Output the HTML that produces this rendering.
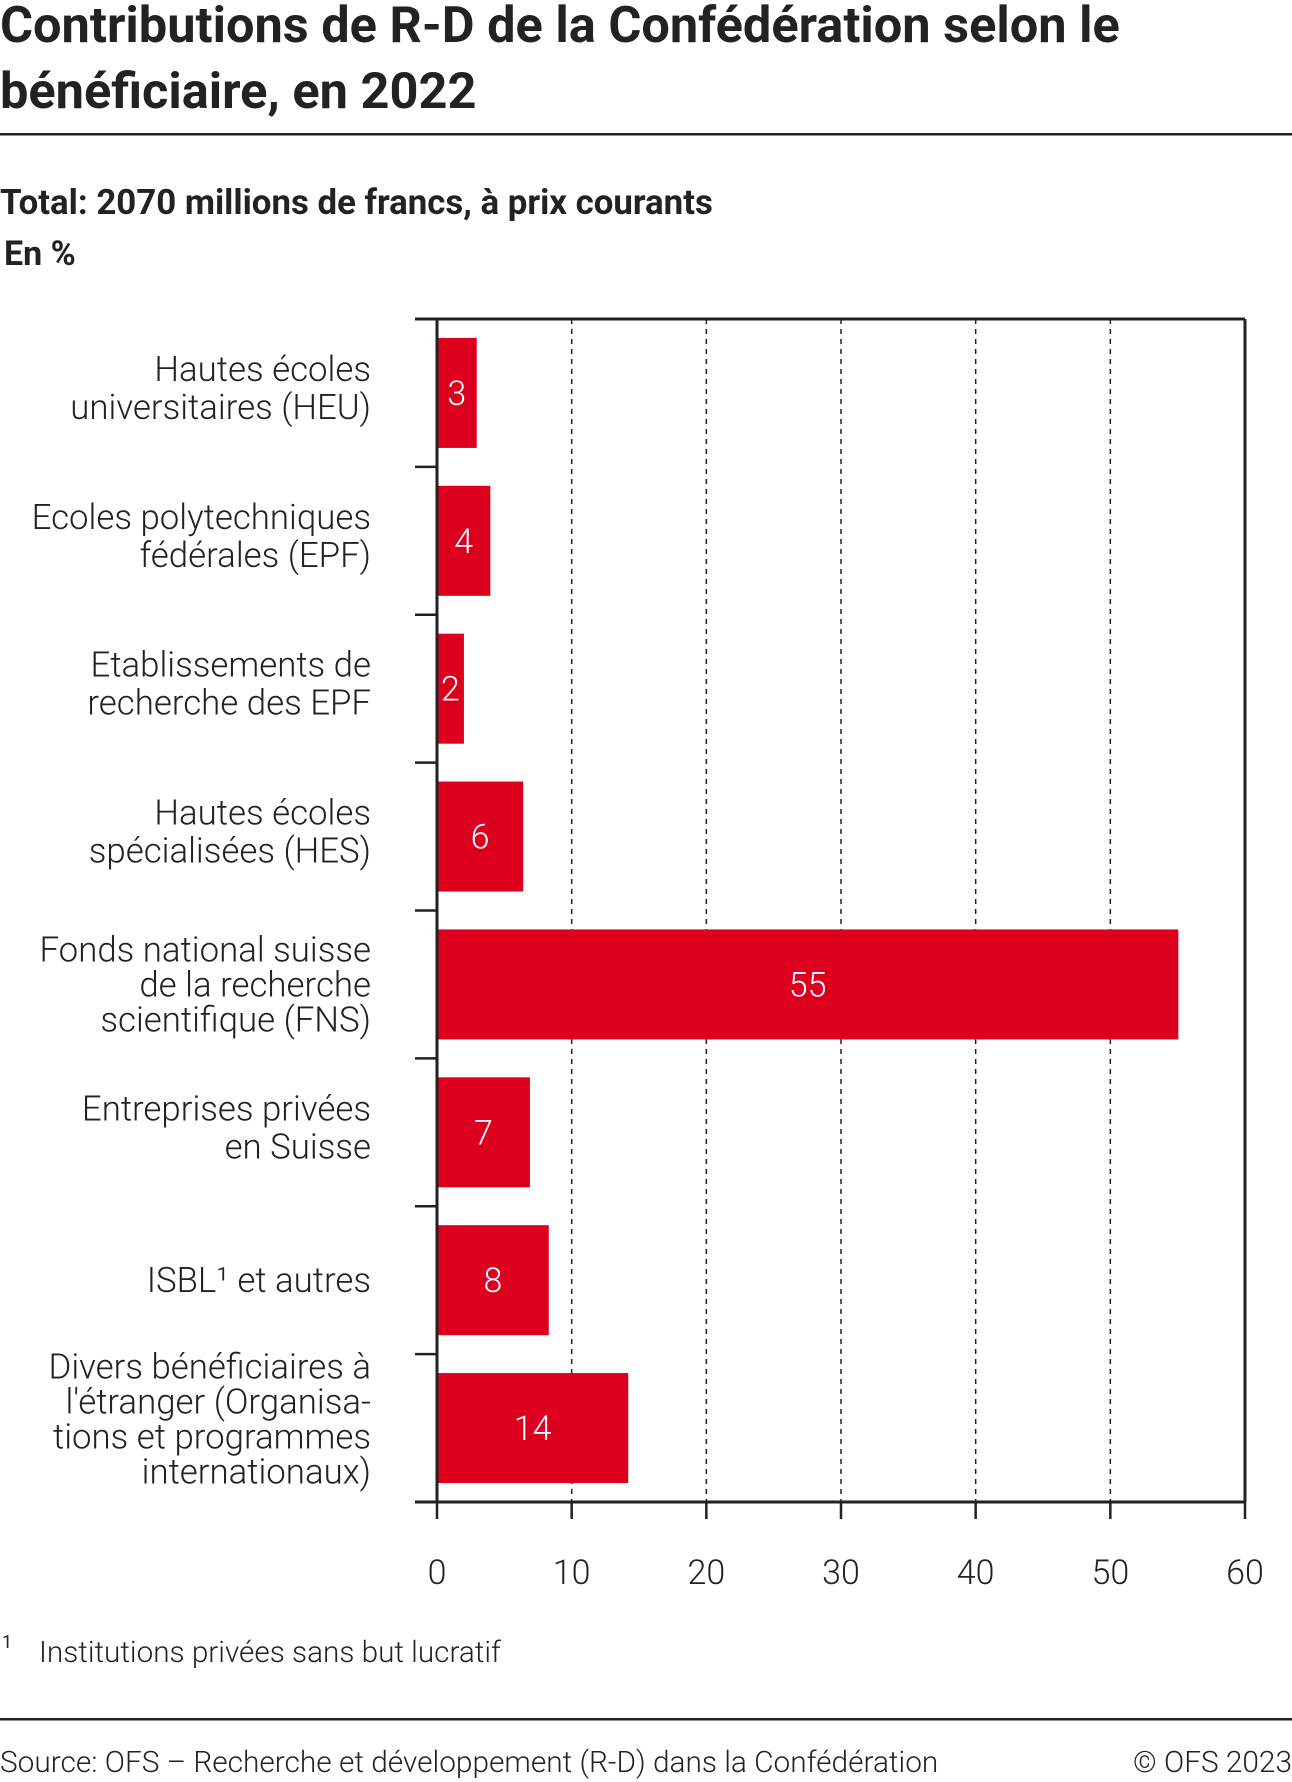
<!DOCTYPE html>
<html><head><meta charset="utf-8"><style>
body{margin:0;background:#fff;}
svg{display:block;font-family:"Roboto","Liberation Sans",sans-serif;}
</style></head><body>
<svg width="1292" height="1782" viewBox="0 0 1292 1782" xmlns="http://www.w3.org/2000/svg">
<text x="0" y="42" font-size="50.5" font-weight="bold" fill="#222">Contributions de R-D de la Confédération selon le</text>
<text x="0" y="108" font-size="50.5" font-weight="bold" fill="#222">bénéficiaire, en 2022</text>
<rect x="0" y="133" width="1292" height="2.5" fill="#222"/>
<text x="0" y="214" font-size="34.8" font-weight="bold" fill="#222">Total: 2070 millions de francs, à prix courants</text>
<text x="4" y="265" font-size="34" font-weight="bold" fill="#222">En %</text>
<g id="plot"></g>
<text x="2" y="1648" font-size="18" fill="#222">1</text>
<text x="39" y="1662" font-size="29.7" fill="#222" font-weight="300">Institutions privées sans but lucratif</text>
<rect x="0" y="1718" width="1292" height="2.5" fill="#222"/>
<text x="0" y="1772" font-size="29.8" fill="#222" font-weight="300">Source: OFS – Recherche et développement (R-D) dans la Confédération</text>
<text x="1292" y="1772" font-size="29.8" fill="#222" font-weight="300" text-anchor="end">© OFS 2023</text>
</svg>
<script>
const categories=[["Hautes écoles","universitaires (HEU)"],["Ecoles polytechniques","fédérales (EPF)"],["Etablissements de","recherche des EPF"],["Hautes écoles","spécialisées (HES)"],["Fonds national suisse","de la recherche","scientifique (FNS)"],["Entreprises privées","en Suisse"],["ISBL¹ et autres"],["Divers bénéficiaires à","l'étranger (Organisa-","tions et programmes","internationaux)"]];
const values=[2.95,3.96,2.0,6.4,55.05,6.9,8.3,14.2];
const valueLabels=["3","4","2","6","55","7","8","14"];
const ticks=[0,10,20,30,40,50,60];
const NS="http://www.w3.org/2000/svg";
const g=document.getElementById('plot');
const X0=437,X1=1245,Y0=319,Y1=1502;
const x=v=>X0+(v/60)*(X1-X0);
const band=(Y1-Y0)/categories.length;
const y=i=>Y0+band*i;
function mk(t,a){const e=document.createElementNS(NS,t);for(const k in a)e.setAttribute(k,a[k]);g.appendChild(e);return e;}
ticks.forEach((t,i)=>{
 if(t>0&&t<60){const l=mk('line',{x1:x(t),x2:x(t),y1:Y0,y2:Y1,stroke:'#222','stroke-width':1.5,'stroke-dasharray':'5,5'});
 
 }
 const tk=mk('line',{x1:x(t),x2:x(t),y1:Y1,y2:Y1+17,stroke:'#222','stroke-width':2.5});
 
 
 const tl=mk('text',{x:x(t),y:1584,'font-size':34,'font-weight':300,fill:'#222','text-anchor':'middle'});
 tl.textContent=t;
 
 
});
values.forEach((v,i)=>{
 const bh=110,by=y(i)+(band-bh)/2;
 const r=mk('rect',{x:X0,y:by,width:x(v)-X0,height:bh,fill:'#dc001e'});
 
 
 const t=mk('text',{x:(X0+x(v))/2,y:by+bh/2+12,'font-size':34,'font-weight':300,fill:'#fff','text-anchor':'middle'});
 t.textContent=valueLabels[i];
 
 
 const lines=categories[i],n=lines.length;
 const lh=n==2?38:35, shift=n==2?-5:(n==4?-9:0), cy=y(i)+band/2;
 lines.forEach((s,j)=>{
  const ct=mk('text',{x:371,y:cy+(j-(n-1)/2)*lh+12+shift,'font-size':34.8,'font-weight':300,fill:'#222','text-anchor':'end'});
  ct.textContent=s;
  
  
 });
 if(i>0){const ct=mk('line',{x1:415,x2:X0,y1:y(i),y2:y(i),stroke:'#222','stroke-width':2.5});
 
 }
});
[[415,Y0,X1,Y0],[X0,Y0,X0,Y1],[X1,Y0,X1,Y1],[415,Y1,X1,Y1]].forEach(c=>{
 const l=mk('line',{x1:c[0],y1:c[1],x2:c[2],y2:c[3],stroke:'#222','stroke-width':3});
 
 
});
</script>
</body></html>
